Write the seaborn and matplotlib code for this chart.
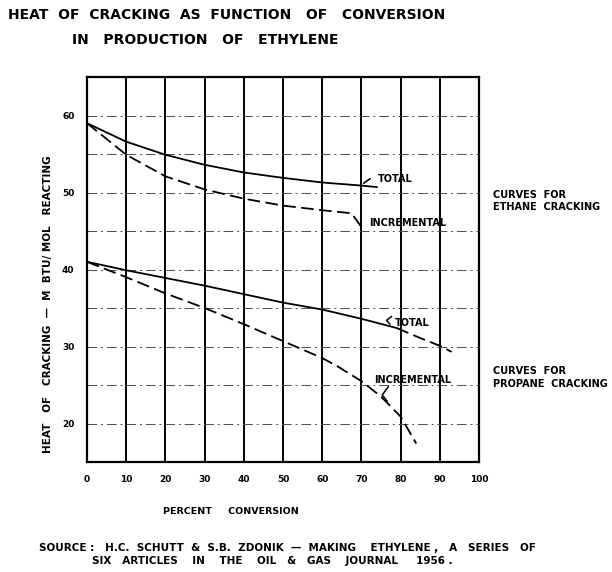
import matplotlib
matplotlib.use("Agg")
import matplotlib.pyplot as plt
import seaborn as sns
import pandas as pd

# ---- data ----
ethane_total_x = [0, 10, 20, 30, 40, 50, 60, 70, 74]
ethane_total_y = [59.0, 56.6, 54.9, 53.6, 52.6, 51.9, 51.3, 50.9, 50.7]

ethane_inc_x = [0, 10, 20, 30, 40, 50, 60, 67.5, 70]
ethane_inc_y = [59.0, 54.9, 52.1, 50.4, 49.2, 48.3, 47.7, 47.3, 45.5]

propane_total_x = [0, 10, 20, 30, 40, 50, 60, 70, 79]
propane_total_y = [41.0, 39.9, 38.9, 37.9, 36.8, 35.7, 34.8, 33.6, 32.4]

propane_total_ext_x = [79, 85, 90, 93]
propane_total_ext_y = [32.4, 31.1, 30.1, 29.3]

propane_inc_x = [0, 10, 20, 30, 40, 50, 60, 64, 70, 75, 80, 84]
propane_inc_y = [41.0, 39.0, 36.9, 35.0, 32.9, 30.7, 28.5, 27.4, 25.5, 23.5, 20.9, 17.4]

x_ticks = [0, 10, 20, 30, 40, 50, 60, 70, 80, 90, 100]
y_ticks = [20, 30, 40, 50, 60]

title_1 = "HEAT  OF  CRACKING  AS  FUNCTION   OF   CONVERSION"
title_2 = "IN   PRODUCTION   OF   ETHYLENE"
x_label = "PERCENT     CONVERSION"
y_label = "HEAT   OF   CRACKING  —  M  BTU/ MOL   REACTING"
source_1 = "SOURCE :   H.C.  SCHUTT  &  S.B.  ZDONIK  —  MAKING    ETHYLENE ,   A   SERIES   OF"
source_2 = "SIX   ARTICLES    IN    THE    OIL   &   GAS    JOURNAL     1956 ."

sns.set_style("white")
plt.rcParams["font.family"] = ["DejaVu Sans"]
plt.rcParams["font.weight"] = "bold"
plt.rcParams["text.color"] = "black"
plt.rcParams["xtick.color"] = "black"
plt.rcParams["ytick.color"] = "black"

fig = plt.figure(figsize=(6.12, 5.72), dpi=100)
ax = fig.add_axes([87 / 612, 1 - 462 / 572, 392 / 612, 385 / 572])

# grid
for gx in range(10, 100, 10):
    ax.axvline(gx, color="black", lw=1.4, zorder=1)
for gy in range(20, 65, 5):
    ax.axhline(gy, color="0.3", lw=0.7, ls=(0, (10, 4, 2, 4)), zorder=1)

lw = 1.3
dash = (0, (7, 3))
sns.lineplot(x=ethane_total_x, y=ethane_total_y, ax=ax, color="black", lw=lw,
             sort=False, estimator=None, zorder=3)
sns.lineplot(x=ethane_inc_x, y=ethane_inc_y, ax=ax, color="black", lw=lw,
             sort=False, estimator=None, ls=dash, zorder=3)
sns.lineplot(x=propane_total_x, y=propane_total_y, ax=ax, color="black", lw=lw,
             sort=False, estimator=None, zorder=3)
sns.lineplot(x=propane_total_ext_x, y=propane_total_ext_y, ax=ax, color="black", lw=lw,
             sort=False, estimator=None, ls=dash, zorder=3)
sns.lineplot(x=propane_inc_x, y=propane_inc_y, ax=ax, color="black", lw=lw,
             sort=False, estimator=None, ls=dash, zorder=3)

ax.set_xlim(0, 100)
ax.set_ylim(15, 65)
ax.set_xticks(x_ticks)
ax.set_yticks(y_ticks)
ax.set_xticklabels([str(v) for v in x_ticks])
ax.set_yticklabels([str(v) for v in y_ticks])
ax.tick_params(length=0, labelsize=6.5, pad=9, colors="black")
for lab in ax.get_xticklabels() + ax.get_yticklabels():
    lab.set_fontweight("bold")
for sp in ax.spines.values():
    sp.set_visible(True)
    sp.set_color("black")
    sp.set_linewidth(1.6)
ax.set_xlabel("")
ax.set_ylabel("")

# leader marks and curve labels
ann_kw = dict(fontsize=7, fontweight="bold", color="black", va="center", ha="left")
ax.annotate("", xy=(70, 51.0), xytext=(72.8, 52.0),
            arrowprops=dict(arrowstyle="-", color="black", lw=1.2))
ax.text(74.2, 51.7, "TOTAL", **ann_kw)
ax.text(72.0, 46.1, "INCREMENTAL", **ann_kw)
ax.plot([77.7, 76.4, 77.3], [33.9, 33.4, 32.9], color="black", lw=1.1)
ax.text(78.5, 33.1, "TOTAL", **ann_kw)
ax.plot([76.9, 75.3, 76.6], [24.8, 23.7, 22.9], color="black", lw=1.1)
ax.text(73.3, 25.6, "INCREMENTAL", **ann_kw)

side_kw = dict(fontsize=7, fontweight="bold", color="black", va="center", ha="left")
fig.text(493 / 612, 1 - 195 / 572, "CURVES  FOR", **side_kw)
fig.text(493 / 612, 1 - 207 / 572, "ETHANE  CRACKING", **side_kw)
fig.text(493 / 612, 1 - 371 / 572, "CURVES  FOR", **side_kw)
fig.text(493 / 612, 1 - 384 / 572, "PROPANE  CRACKING", **side_kw)

# titles and axis labels
fig.text(8 / 612, 1 - 15 / 572, title_1, fontsize=10, fontweight="bold",
         ha="left", va="center", color="black")
fig.text(72 / 612, 1 - 40 / 572, title_2, fontsize=10, fontweight="bold",
         ha="left", va="center", color="black")
fig.text(231 / 612, 1 - 512 / 572, x_label, fontsize=6.8, fontweight="bold",
         ha="center", va="center", color="black")
fig.text(48 / 612, 1 - 304 / 572, y_label, fontsize=7.5, fontweight="bold",
         ha="center", va="center", rotation=90, color="black")
fig.text(287 / 612, 1 - 548 / 572, source_1, fontsize=7.5, fontweight="bold",
         ha="center", va="center", color="black")
fig.text(272 / 612, 1 - 561 / 572, source_2, fontsize=7.5, fontweight="bold",
         ha="center", va="center", color="black")

fig.savefig("out.png", dpi=100)
